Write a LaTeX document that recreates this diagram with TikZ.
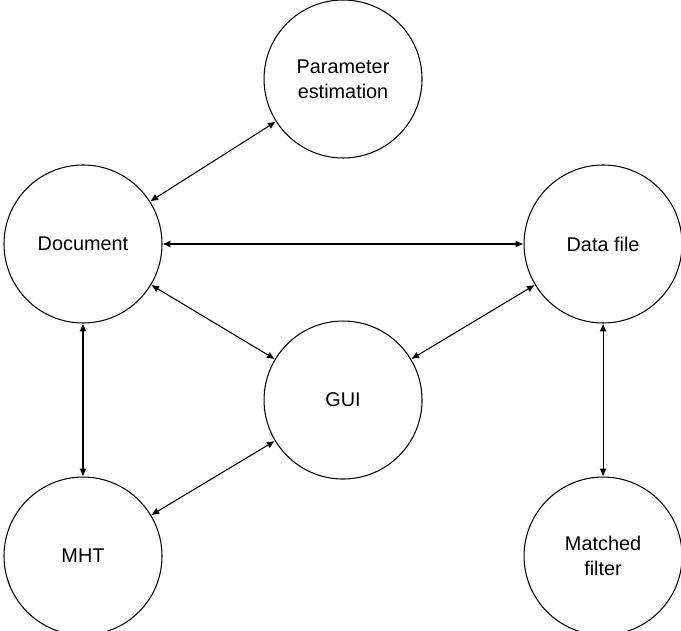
\documentclass[tikz,border=0pt]{standalone}
\usepackage{fontspec}
\setmainfont{Liberation Sans}
\usepackage{tikz}
\usetikzlibrary{positioning, shapes, arrows.meta, calc}

\begin{document}
\begin{tikzpicture}[
    block/.style={circle, draw, line width=0.6pt, minimum size=3.16cm, inner sep=0pt, align=center, font=\fontsize{11.3}{14.2}\selectfont},
    arrow/.style={<->, line width=0.6pt, >={Latex[length=4.5pt, width=4pt]}},
]

\useasboundingbox (-1.66,-7.74) rectangle (11.96,4.88);

% --- Outer modules ---
\node[block] (doc) {Document};
\node[block, right=7.22cm of doc] (data) {Data file};
\node[block, below=3.06cm of doc] (mht) {MHT};
\node[block, below=3.06cm of data] (filter) {Matched\\filter};

% --- Centre and top ---
\node[block] (gui) at ($(doc)!0.5!(filter)$) {GUI};
\node[block] (param) at ($(doc)!0.5!(data) + (0,3.3)$) {Parameter\\estimation};

% --- Arrows ---
\draw[arrow] (doc) -- (param);
\draw[arrow] (doc) -- (data);
\draw[arrow] (doc) -- (gui);
\draw[arrow] (data) -- (gui);
\draw[arrow] (mht) -- (gui);
\draw[arrow] (doc) -- (mht);
\draw[arrow] (data) -- (filter);

\end{tikzpicture}
\end{document}
